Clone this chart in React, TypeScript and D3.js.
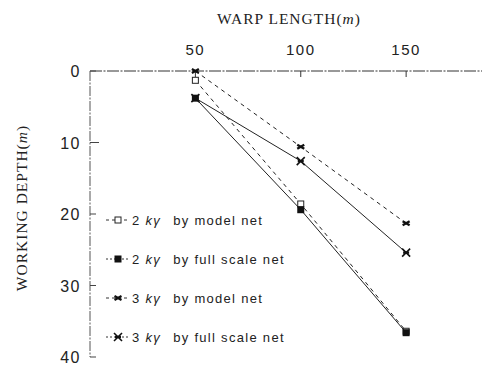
import React from "react";
import * as d3 from "d3";

const WIDTH = 482;
const HEIGHT = 368;
const MARGIN_LEFT = 90;
const MARGIN_TOP = 71;
const PLOT_BOTTOM = 357;

const warpLengths = [50, 100, 150];
const xTicks = [50, 100, 150];
const yTicks = [0, 10, 20, 30, 40];

const depth2kgModel = [1.3, 18.6, 36.4];
const depth2kgFull = [3.8, 19.4, 36.6];
const depth3kgModel = [0, 10.6, 21.3];
const depth3kgFull = [3.8, 12.6, 25.4];

const seriesLabels = [
  "by model net",
  "by full scale net",
  "by model net",
  "by full scale net",
];
const seriesWeights = ["2", "2", "3", "3"];

type Marker = "openSquare" | "filledSquare" | "smallX" | "crossX";

const seriesList: { values: number[]; dashed: boolean; marker: Marker }[] = [
  { values: depth2kgModel, dashed: true, marker: "openSquare" },
  { values: depth2kgFull, dashed: false, marker: "filledSquare" },
  { values: depth3kgModel, dashed: true, marker: "smallX" },
  { values: depth3kgFull, dashed: false, marker: "crossX" },
];

const SANS = "'Liberation Sans', Arial, sans-serif";
const SERIF = "'Liberation Serif', 'DejaVu Serif', serif";

function MarkerShape({ kind, x, y }: { kind: Marker; x: number; y: number }) {
  if (kind === "openSquare")
    return (
      <rect x={x - 3} y={y - 3} width={6} height={6} fill="#fff" stroke="#222" strokeWidth={1} />
    );
  if (kind === "filledSquare")
    return <rect x={x - 3.5} y={y - 3.5} width={7} height={7} fill="#111" />;
  if (kind === "smallX")
    return (
      <g stroke="#111" strokeWidth={2.2}>
        <line x1={x - 3.5} y1={y - 2} x2={x + 3.5} y2={y + 2} />
        <line x1={x - 3.5} y1={y + 2} x2={x + 3.5} y2={y - 2} />
      </g>
    );
  return (
    <g stroke="#111" strokeWidth={1.6}>
      <line x1={x - 4} y1={y - 4} x2={x + 4} y2={y + 4} />
      <line x1={x - 4} y1={y + 4} x2={x + 4} y2={y - 4} />
      <line x1={x - 3} y1={y} x2={x + 3} y2={y} strokeWidth={2.4} />
    </g>
  );
}

export default function App() {
  const x = d3.scaleLinear().domain([0, 186]).range([MARGIN_LEFT, WIDTH]);
  const y = d3.scaleLinear().domain([0, 40]).range([MARGIN_TOP, PLOT_BOTTOM]);

  const line = d3
    .line<number>()
    .x((_, i) => x(warpLengths[i]))
    .y((d) => y(d));

  const legendY = [220, 259, 298, 337];

  return (
    <svg
      width={WIDTH}
      height={HEIGHT}
      style={{ position: "absolute", left: 0, top: 0, background: "#fff" }}
    >
      {/* title */}
      <text
        x={289}
        y={24}
        textAnchor="middle"
        fontFamily={SERIF}
        fontSize={15.5}
        fill="#222"
        letterSpacing={1}
      >
        WARP LENGTH(<tspan fontStyle="italic">m</tspan>)
      </text>

      {/* y title */}
      <text
        transform={`translate(27, 208) rotate(-90)`}
        textAnchor="middle"
        fontFamily={SERIF}
        fontSize={15.5}
        fill="#222"
        letterSpacing={1}
      >
        WORKING DEPTH(<tspan fontStyle="italic">m</tspan>)
      </text>

      {/* top axis */}
      <line x1={MARGIN_LEFT} y1={MARGIN_TOP} x2={WIDTH} y2={MARGIN_TOP} stroke="#333" strokeWidth={1} strokeDasharray="12 1.5 2 1.5" />
      {xTicks.map((t) => (
        <g key={t}>
          <line x1={x(t)} y1={MARGIN_TOP} x2={x(t)} y2={MARGIN_TOP + 6} stroke="#333" />
          <text
            x={x(t)}
            y={55}
            textAnchor="middle"
            fontFamily={SANS}
            fontSize={15}
            letterSpacing={1.5}
            fill="#222"
          >
            {t}
          </text>
        </g>
      ))}

      {/* left axis */}
      <line x1={MARGIN_LEFT} y1={MARGIN_TOP} x2={MARGIN_LEFT} y2={PLOT_BOTTOM} stroke="#555" strokeWidth={1} strokeDasharray="10 1.5 2 1.5" />
      {yTicks.map((t) => (
        <g key={t}>
          <line x1={MARGIN_LEFT} y1={y(t)} x2={MARGIN_LEFT + (t === 10 ? 9 : 6)} y2={y(t)} stroke="#444" />
          <text
            x={81}
            y={y(t) + 6}
            textAnchor="end"
            fontFamily={SANS}
            fontSize={16}
            letterSpacing={1.5}
            fill="#222"
          >
            {t}
          </text>
        </g>
      ))}

      {/* series */}
      {seriesList.map((s, i) => (
        <g key={i}>
          <path
            d={line(s.values) || ""}
            fill="none"
            stroke="#222"
            strokeWidth={1}
            strokeDasharray={s.dashed ? "4 4" : undefined}
          />
          {s.values.map((v, j) => (
            <MarkerShape key={j} kind={s.marker} x={x(warpLengths[j])} y={y(v)} />
          ))}
        </g>
      ))}

      {/* legend */}
      {seriesList.map((s, i) => (
        <g key={i}>
          <line
            x1={106}
            y1={legendY[i]}
            x2={129}
            y2={legendY[i]}
            stroke="#333"
            strokeWidth={1}
            strokeDasharray={s.dashed ? "3 3" : "2 2"}
          />
          <MarkerShape kind={s.marker} x={118} y={legendY[i]} />
          <text
            x={132}
            y={legendY[i] + 5}
            fontFamily={SANS}
            fontSize={13}
            letterSpacing={1.3}
            fill="#222"
          >
            {seriesWeights[i]}
            <tspan dx={5} fontStyle="italic">kγ</tspan>
            <tspan dx={12}>{seriesLabels[i]}</tspan>
          </text>
        </g>
      ))}
    </svg>
  );
}
